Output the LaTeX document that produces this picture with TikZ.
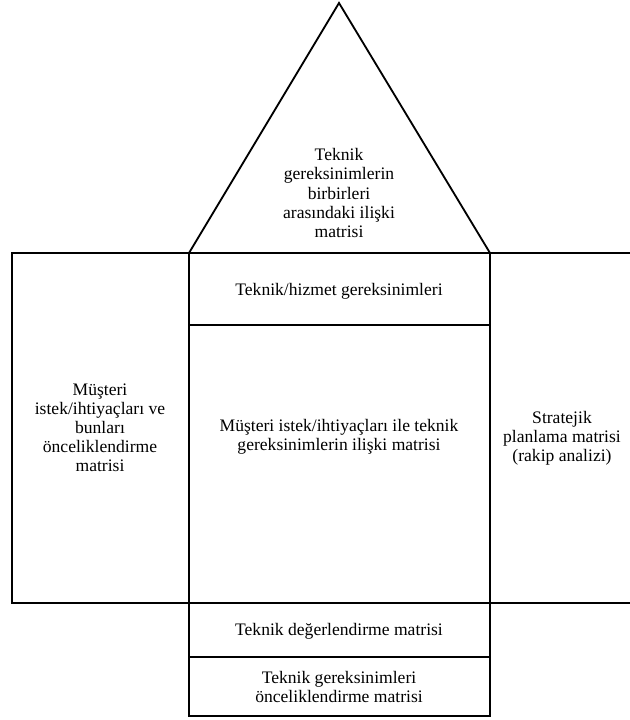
\documentclass[tikz,border=0pt]{standalone}
\usepackage{fontspec}
\setmainfont{Liberation Serif}
\usepackage{tikz}
\usetikzlibrary{positioning,calc}

\tikzset{
  part/.style={draw=black,line width=1.3pt,line join=miter},
  lbl/.style={align=center,inner sep=0pt,font=\fontsize{12.5}{13.6}\selectfont}
}

\begin{document}
\begin{tikzpicture}[x=0.025cm,y=-0.025cm]
  \useasboundingbox (0,0) rectangle (629,720);
  % roof
  \coordinate (apex) at (339,3);
  \coordinate (bl) at (189,253);
  \coordinate (br) at (490,253);
  \draw[part] (bl)--(apex)--(br);
  % walls
  \draw[part] (12,253) rectangle (189,603);
  \draw[part] (490,253) rectangle (645,603);
  \draw[part] (189,253) rectangle (490,325);
  \draw[part] (189,325) rectangle (490,603);
  % basement
  \draw[part] (189,603) rectangle (490,657);
  \draw[part] (189,657) rectangle (490,716);
  % labels
  \node[lbl] (roof) at (339,193) {Teknik\\gereksinimlerin\\birbirleri\\arasındaki ilişki\\matrisi};
  \node[lbl] (how) at (339,291) {Teknik/hizmet gereksinimleri};
  \node[lbl] (rel) at (339,437) {Müşteri istek/ihtiyaçları ile teknik\\gereksinimlerin ilişki matrisi};
  \node[lbl] (what) at (100,428) {Müşteri\\istek/ihtiyaçları ve\\bunları\\önceliklendirme\\matrisi};
  \node[lbl] (plan) at (562,438) {Stratejik\\planlama matrisi\\(rakip analizi)};
  \node[lbl] (eval) at (339,631) {Teknik değerlendirme matrisi};
  \node[lbl] (prio) at (339,687) {Teknik gereksinimleri\\önceliklendirme matrisi};
\end{tikzpicture}
\end{document}
